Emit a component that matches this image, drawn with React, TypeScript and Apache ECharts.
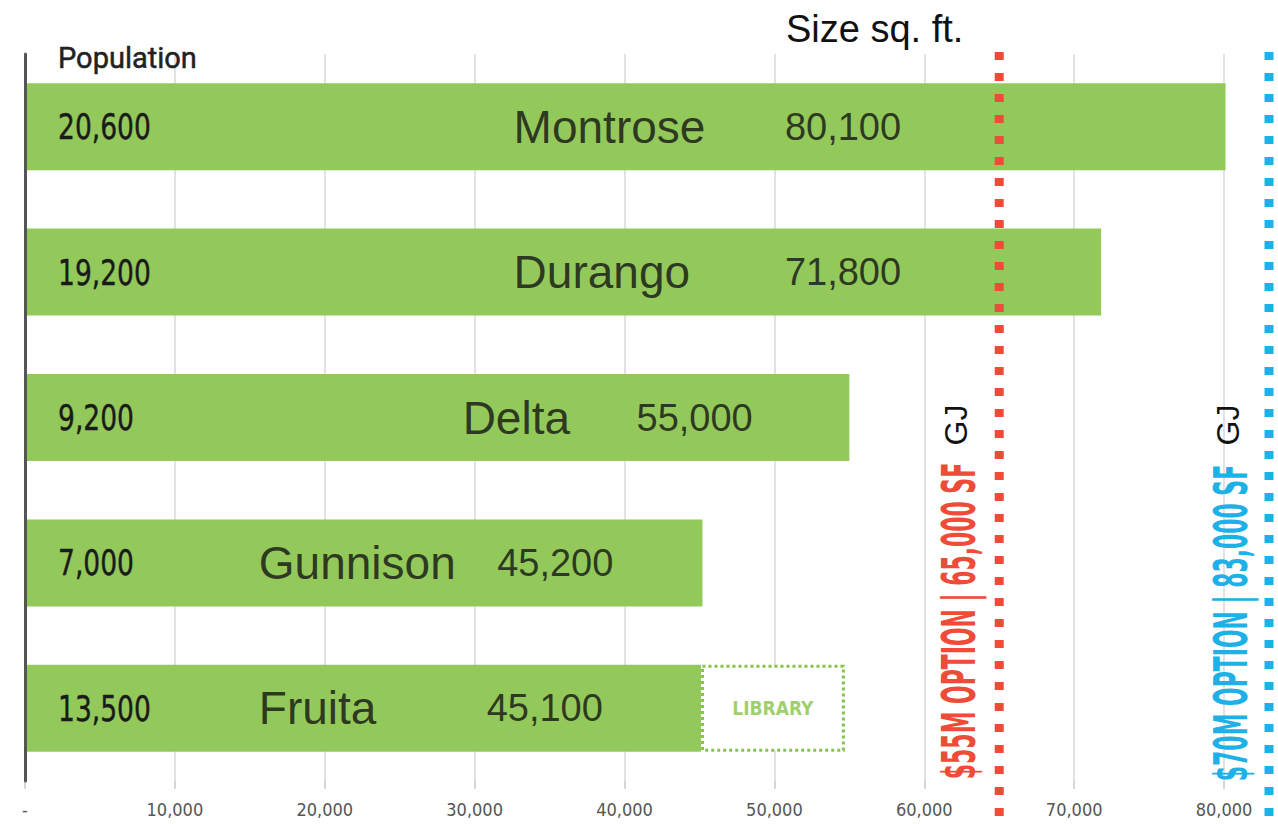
import React, { useEffect, useRef } from 'react';
import * as echarts from 'echarts';

// ---- data ----
const cities = ['Montrose', 'Durango', 'Delta', 'Gunnison', 'Fruita'];
const population = ['20,600', '19,200', '9,200', '7,000', '13,500'];
const sizeSqFt = [80100, 71800, 55000, 45200, 45100];
const libraryAddition: (number | null)[] = [null, null, null, null, 9600];
const libraryLabel = 'LIBRARY';
const xTickInterval = 10000;
const xMax = 84000;
const optionLines = [
  { label: '$55M OPTION | 65,000 SF', sqft: 65000, city: 'GJ' },
  { label: '$70M OPTION | 83,000 SF', sqft: 83000, city: 'GJ' },
];
const axisTitles = { population: 'Population', size: 'Size sq. ft.' };
// annotation anchors (in sq. ft. units) for the city name and size labels
const nameAt = [32600, 32600, 29200, 15600, 15600];
const valueAt = [50700, 50700, 40800, 31500, 30800];

// ---- styles ----
const GREEN = '#93c85a';
const RED = '#ee4c38';
const BLUE = '#1db1e7';
const NARROW = '"DejaVu Sans Condensed", "Liberation Sans Narrow", sans-serif';
const HELV = '"Liberation Sans", Arial, Helvetica, sans-serif';
const lineColors = [RED, BLUE];

const fmt = (v: number) => v.toLocaleString('en-US');

export default function App() {
  const ref = useRef<HTMLDivElement>(null);
  useEffect(() => {
    if (!ref.current) return;
    const chart = echarts.init(ref.current, undefined, { renderer: 'svg' });
    const option: any = {
      animation: false,
      backgroundColor: '#ffffff',
      grid: { left: 25, right: 6, top: 54, bottom: 43, containLabel: false },
      xAxis: {
        type: 'value',
        min: 0,
        max: xMax,
        interval: xTickInterval,
        axisLine: { show: false },
        axisTick: { show: true, length: 8, lineStyle: { color: '#d6d6d6', width: 2 } },
        splitLine: { show: true, lineStyle: { color: '#e2e2e2', width: 2 } },
        axisLabel: {
          showMaxLabel: false,
          margin: 19,
          fontFamily: NARROW,
          fontSize: 18,
          color: '#555',
          formatter: (v: number) => (v === 0 ? '-' : fmt(v)),
        },
      },
      yAxis: {
        type: 'category',
        data: cities,
        inverse: true,
        z: 5,
        axisLine: { show: true, lineStyle: { color: '#555', width: 3 } },
        axisTick: { show: false },
        splitLine: { show: false },
        axisLabel: { show: false },
      },
      series: [
        {
          type: 'bar',
          stack: 'size',
          barWidth: 87,
          data: sizeSqFt,
          itemStyle: { color: GREEN },
          silent: true,
        },
        {
          type: 'bar',
          stack: 'size',
          barWidth: 87,
          silent: true,
          data: libraryAddition.map((v) => (v == null ? '-' : { value: v, label: { show: true } })),
          itemStyle: { color: '#ffffff', borderColor: '#86c34c', borderWidth: 3, borderType: [3, 3] },
          label: {
            show: false,
            position: 'inside',
            formatter: libraryLabel,
            fontFamily: NARROW,
            fontWeight: 'bold',
            fontSize: 19,
            color: '#9fd06c',
          },
        },
        {
          type: 'scatter',
          symbolSize: 0,
          silent: true,
          data: cities.map((c, i) => [nameAt[i], c]),
          label: {
            show: true,
            position: 'right',
            distance: 0,
            fontFamily: HELV,
            fontSize: 46,
            color: '#111',
            formatter: (p: any) => p.value[1],
          },
        },
        {
          type: 'scatter',
          symbolSize: 0,
          silent: true,
          data: cities.map((c, i) => [valueAt[i], c, sizeSqFt[i]]),
          label: {
            show: true,
            position: 'right',
            distance: 0,
            fontFamily: HELV,
            fontSize: 38,
            color: '#111',
            formatter: (p: any) => fmt(p.value[2]),
          },
        },
      ],
    };
    chart.setOption(option);

    const textStyle = (text: string, fill: string, font: string, size: number, weight: string, align: string) => ({
      text,
      fill,
      fontFamily: font,
      fontSize: size,
      fontWeight: weight,
      align,
      verticalAlign: 'middle',
      textAlign: align,
      textVerticalAlign: 'middle',
    });

    const textPos = [
      { lx: 959, ly: 621, gx: 956, gy: 425 },
      { lx: 1231, ly: 623, gx: 1228, gy: 425 },
    ];

    const graphics: any[] = [
      {
        type: 'text', x: 58, y: 58, z: 10,
        style: { ...textStyle(axisTitles.population, '#222', 'Roboto, sans-serif', 29, 'normal', 'left'), stroke: '#222', lineWidth: 0.5 },
      },
      { type: 'text', x: 786, y: 29, z: 10, style: textStyle(axisTitles.size, '#111', HELV, 38, 'normal', 'left') },
    ];
    cities.forEach((c, i) => {
      const y = chart.convertToPixel({ yAxisIndex: 0 }, c) as number;
      graphics.push({
        type: 'text',
        z: 10,
        x: 58,
        y: y,
        scaleX: 0.82,
        style: { ...textStyle(population[i], '#1a1a1a', NARROW, 36, 'normal', 'left'), stroke: '#1a1a1a', lineWidth: 0.4 },
      });
    });
    optionLines.forEach((l, i) => {
      const x = chart.convertToPixel({ xAxisIndex: 0 }, l.sqft) as number;
      graphics.push({
        type: 'line',
        z: 10,
        shape: { x1: x, y1: 52, x2: x, y2: 818 },
        style: { stroke: lineColors[i], lineWidth: 9, lineDash: [8, 13] },
      });
      graphics.push({
        type: 'text',
        z: 10,
        x: textPos[i].lx,
        y: textPos[i].ly,
        rotation: Math.PI / 2,
        scaleX: 0.53,
        style: textStyle(l.label, lineColors[i], NARROW, 46, 'bold', 'center'),
      });
      graphics.push({
        type: 'text',
        z: 10,
        x: textPos[i].gx,
        y: textPos[i].gy,
        rotation: Math.PI / 2,
        style: textStyle(l.city, '#111', HELV, 32, 'normal', 'center'),
      });
    });
    chart.setOption({ graphic: graphics });

    return () => chart.dispose();
  }, []);
  return <div ref={ref} style={{ position: 'fixed', left: 0, top: 0, width: 1290, height: 824 }} />;
}
